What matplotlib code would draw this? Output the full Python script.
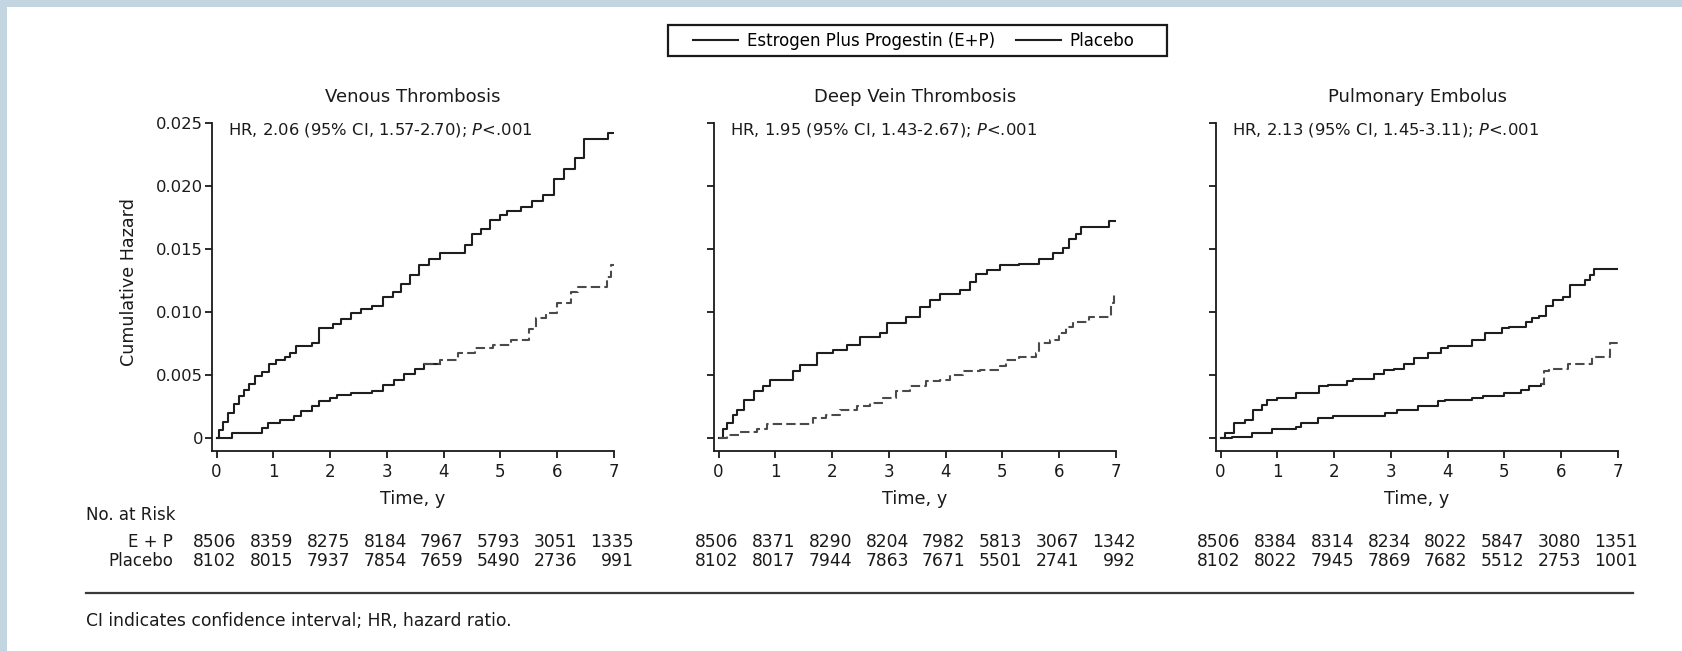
import matplotlib
matplotlib.use("Agg")
import matplotlib.pyplot as plt
from matplotlib.lines import Line2D
from matplotlib.patches import Rectangle

plt.rcParams['font.family'] = ['DejaVu Sans']
plt.rcParams['mathtext.fontset'] = 'dejavusans'

# ---------------- data ----------------
years = [0, 1, 2, 3, 4, 5, 6, 7]
y_ticks = [0, 0.005, 0.010, 0.015, 0.020, 0.025]
y_tick_labels = ["0", "0.005", "0.010", "0.015", "0.020", "0.025"]

panel_titles = ["Venous Thrombosis", "Deep Vein Thrombosis", "Pulmonary Embolus"]
hr_texts = [r"HR, 2.06 (95% CI, 1.57-2.70); $\it{P}$<.001",
            r"HR, 1.95 (95% CI, 1.43-2.67); $\it{P}$<.001",
            r"HR, 2.13 (95% CI, 1.45-3.11); $\it{P}$<.001"]
legend_labels = ["Estrogen Plus Progestin (E+P)", "Placebo"]
risk_row_labels = ["E + P", "Placebo"]

risk_ep = [[8506, 8359, 8275, 8184, 7967, 5793, 3051, 1335],
           [8506, 8371, 8290, 8204, 7982, 5813, 3067, 1342],
           [8506, 8384, 8314, 8234, 8022, 5847, 3080, 1351]]
risk_pl = [[8102, 8015, 7937, 7854, 7659, 5490, 2736, 991],
           [8102, 8017, 7944, 7863, 7671, 5501, 2741, 992],
           [8102, 8022, 7945, 7869, 7682, 5512, 2753, 1001]]

# Venous thrombosis
vt_ep_t = [0, 0.05, 0.12, 0.2, 0.3, 0.4, 0.49, 0.58, 0.68, 0.8, 0.93, 1.05, 1.2, 1.3,
           1.4, 1.68, 1.8, 2.05, 2.2, 2.37, 2.55, 2.74, 2.93, 3.1, 3.24, 3.4, 3.56,
           3.75, 3.93, 4.37, 4.5, 4.65, 4.81, 5.0, 5.12, 5.37, 5.55, 5.75, 5.94,
           6.12, 6.31, 6.47, 6.9, 7.0]
vt_ep_h = [0, .0006, .0013, .0020, .0027, .0033, .0038, .0043, .0049, .0052, .0059,
           .0062, .0064, .0067, .0073, .0075, .0087, .0090, .0094, .0099, .0102,
           .0105, .0112, .0116, .0122, .0129, .0137, .0142, .0147, .0153, .0162,
           .0166, .0173, .0177, .0180, .0183, .0188, .0193, .0205, .0213, .0222,
           .0237, .0242, .0242]
vt_pl_t = [0, 0.27, 0.8, 0.9, 1.11, 1.37, 1.49, 1.68, 1.8, 1.99, 2.12, 2.37, 2.74,
           2.93, 3.12, 3.3, 3.49, 3.65, 3.93, 4.25, 4.56, 4.87, 5.18, 5.5, 5.62,
           5.81, 6.0, 6.25, 6.37, 6.87, 6.95, 7.0]
vt_pl_h = [0, .0004, .0008, .0012, .0014, .0017, .0021, .0025, .0029, .0032, .0034,
           .0036, .0037, .0042, .0046, .0051, .0055, .0059, .0062, .0067, .0071,
           .0074, .0078, .0086, .0095, .0099, .0107, .0116, .0120, .0128, .0137,
           .0137]

# Deep vein thrombosis
dvt_ep_t = [0, 0.08, 0.15, 0.25, 0.32, 0.44, 0.62, 0.79, 0.91, 1.32, 1.44, 1.73,
            2.02, 2.26, 2.49, 2.84, 2.96, 3.31, 3.54, 3.72, 3.9, 4.25, 4.42, 4.54,
            4.72, 4.95, 5.3, 5.65, 5.89, 6.06, 6.18, 6.3, 6.39, 6.88, 7.0]
dvt_ep_h = [0, .0007, .0012, .0018, .0022, .0030, .0037, .0041, .0046, .0053,
            .0058, .0067, .0070, .0074, .0080, .0083, .0091, .0096, .0104, .0109,
            .0114, .0117, .0124, .0130, .0133, .0137, .0138, .0142, .0147, .0151,
            .0158, .0162, .0167, .0172, .0172]
dvt_pl_t = [0, 0.15, 0.38, 0.67, 0.85, 1.67, 1.9, 2.14, 2.43, 2.67, 2.9, 3.13,
            3.37, 3.66, 3.9, 4.07, 4.31, 4.6, 4.95, 5.07, 5.3, 5.59, 5.65, 5.83,
            6.0, 6.12, 6.24, 6.53, 6.91, 6.97, 7.0]
dvt_pl_h = [0, .0002, .0005, .0007, .0011, .0016, .0018, .0022, .0025, .0028,
            .0032, .0037, .0041, .0045, .0046, .0050, .0053, .0054, .0057, .0062,
            .0064, .0067, .0075, .0078, .0083, .0088, .0092, .0096, .0107, .0113,
            .0113]

# Pulmonary embolus
pe_ep_t = [0, 0.08, 0.23, 0.43, 0.58, 0.73, 0.82, 1.0, 1.33, 1.74, 1.89, 2.22,
           2.34, 2.7, 2.88, 3.05, 3.23, 3.41, 3.65, 3.89, 4.0, 4.42, 4.66, 4.96,
           5.08, 5.38, 5.49, 5.6, 5.73, 5.85, 6.03, 6.15, 6.42, 6.51, 6.57, 7.0]
pe_ep_h = [0, .0004, .0012, .0014, .0022, .0026, .0030, .0032, .0036, .0041,
           .0042, .0045, .0047, .0051, .0054, .0055, .0059, .0063, .0067, .0071,
           .0073, .0078, .0083, .0087, .0088, .0092, .0095, .0097, .0105, .0109,
           .0112, .0121, .0125, .0129, .0134, .0134]
pe_pl_t = [0, 0.2, 0.55, 0.91, 1.33, 1.42, 1.71, 1.98, 2.9, 3.11, 3.47, 3.83, 3.95,
           4.42, 4.63, 4.99, 5.29, 5.43, 5.64, 5.7, 5.79, 6.12, 6.54, 6.86, 7.0]
pe_pl_h = [0, .0001, .0004, .0007, .0009, .0012, .0016, .0017, .0020, .0022,
           .0025, .0029, .0030, .0032, .0033, .0036, .0038, .0041, .0043, .0053,
           .0055, .0059, .0064, .0075, .0075]

ep_series = [(vt_ep_t, vt_ep_h), (dvt_ep_t, dvt_ep_h), (pe_ep_t, pe_ep_h)]
pl_series = [(vt_pl_t, vt_pl_h), (dvt_pl_t, dvt_pl_h), (pe_pl_t, pe_pl_h)]

# style: where the (scanned) placebo line turns from solid-looking to dashed
placebo_solid_until = [3.7, 0.0, 5.66]

# ---------------- figure ----------------
W, H = 1682, 651
fig = plt.figure(figsize=(W / 100, H / 100), dpi=100)
fig.patch.set_facecolor('#c3d5e0')
fig.add_artist(Rectangle((7 / W, 0), 1 - 7 / W, 1 - 7 / H, transform=fig.transFigure,
                         facecolor='white', edgecolor='none', zorder=-10))

def px(x0, y0):
    return x0 / W, 1 - y0 / H

ax_left_px = [212, 714, 1216]
ax_w_px = 402
ax_top_px, ax_bot_px = 122.7, 450.5
ink = '#1a1a1a'

for i in range(3):
    l = ax_left_px[i] / W
    b = 1 - ax_bot_px / H
    ax = fig.add_axes([l, b, ax_w_px / W, (ax_bot_px - ax_top_px) / H])
    t, h = ep_series[i]
    ax.step(t, h, where='post', color='#1e1e1e', lw=1.5)
    t, h = pl_series[i]
    cut = placebo_solid_until[i]
    n_solid = sum(1 for v in t if v <= cut)
    if n_solid > 1:
        ts, hs = list(t[:n_solid]), list(h[:n_solid])
        ts.append(t[n_solid]); hs.append(hs[-1])
        ax.step(ts, hs, where='post', color='#1e1e1e', lw=1.5)
    td, hd = list(t[max(n_solid - 1, 0):]), list(h[max(n_solid - 1, 0):])
    ax.step(td, hd, where='post', color='#4a4a4a', lw=1.5, linestyle=(0, (4.5, 2)))
    ax.set_xlim(-0.08, 7)
    ax.set_ylim(-0.001, 0.025)
    for s in ['top', 'right']:
        ax.spines[s].set_visible(False)
    for s in ['left', 'bottom']:
        ax.spines[s].set_linewidth(1.3)
        ax.spines[s].set_color(ink)
    ax.set_xticks(years)
    ax.set_xticklabels([str(y) for y in years], fontsize=12, color=ink)
    ax.set_yticks(y_ticks)
    if i == 0:
        ax.set_yticklabels(y_tick_labels, fontsize=11.8, color=ink)
        ax.set_ylabel("Cumulative Hazard", fontsize=12.6, color=ink)
        ax.yaxis.set_label_coords(-0.185, 0.514)
    else:
        ax.set_yticklabels([])
    ax.tick_params(axis='both', direction='out', length=5, width=1.3, color=ink)
    ax.tick_params(axis='x', pad=4)
    ax.tick_params(axis='y', pad=1.5)
    ax.set_xlabel("Time, y", fontsize=12.7, color=ink)
    ax.xaxis.set_label_coords(0.5, -0.12)
    ax.set_title(panel_titles[i], fontsize=13, color=ink, pad=15)
    ax.text(0.04, 0.978, hr_texts[i], transform=ax.transAxes, fontsize=11.8,
            color=ink, ha='left', va='center')
    tr = ax.get_xaxis_transform()
    for k, yv in enumerate(years):
        ax.text(yv + 0.35, -0.279, str(risk_ep[i][k]), transform=tr, ha='right',
                va='center', fontsize=12.3, color=ink, clip_on=False)
        ax.text(yv + 0.35, -0.337, str(risk_pl[i][k]), transform=tr, ha='right',
                va='center', fontsize=12.3, color=ink, clip_on=False)

fig.text(*px(86, 515), "No. at Risk", fontsize=12, color=ink, ha='left', va='center')
fig.text(*px(173, 542), risk_row_labels[0], fontsize=12, color=ink, ha='right', va='center')
fig.text(*px(173, 561), risk_row_labels[1], fontsize=12, color=ink, ha='right', va='center')

# footer rule and note
x0, y0 = px(86, 593)
x1, _ = px(1633, 593)
fig.add_artist(Line2D([x0, x1], [y0, y0], transform=fig.transFigure, color='#3a3a3a', lw=1.6))
fig.text(*px(86, 621), "CI indicates confidence interval; HR, hazard ratio.",
         fontsize=12.3, color=ink, ha='left', va='center')

# legend (content without frame, plus a framing box)
handles = [Line2D([], [], color='#1e1e1e', lw=1.5), Line2D([], [], color='#1e1e1e', lw=1.5)]
leg = fig.legend(handles, legend_labels, loc='center', bbox_to_anchor=px(914, 40.5),
                 ncol=2, fontsize=12, frameon=False,
                 handlelength=2.7, handletextpad=0.5, columnspacing=1.3,
                 borderpad=0.4)
bx0, by1 = px(668, 25)
bx1, by0 = px(1167, 56)
fig.add_artist(Rectangle((bx0, by0), bx1 - bx0, by1 - by0, transform=fig.transFigure,
                         facecolor='none', edgecolor=ink, lw=1.6))

fig.savefig("out.png", dpi=100, facecolor=fig.get_facecolor())
